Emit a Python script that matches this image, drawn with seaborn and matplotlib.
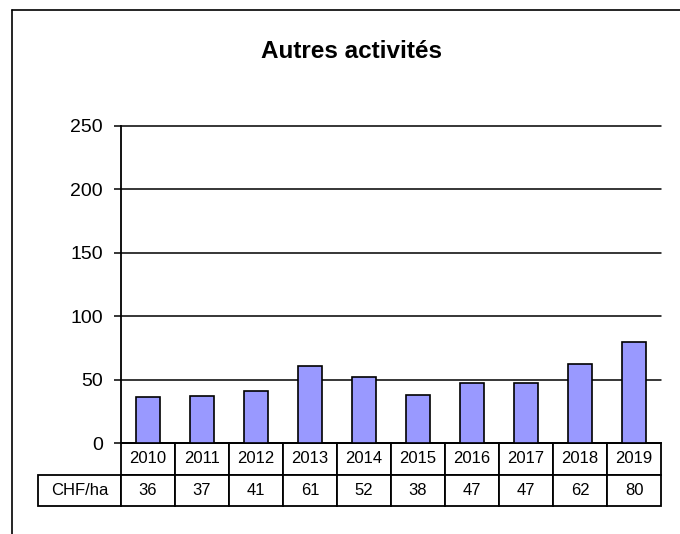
import matplotlib
matplotlib.use("Agg")
import matplotlib.pyplot as plt
from matplotlib.lines import Line2D
import pandas as pd
import seaborn as sns

years = ["2010", "2011", "2012", "2013", "2014", "2015", "2016", "2017", "2018", "2019"]
chf_ha = [36, 37, 41, 61, 52, 38, 47, 47, 62, 80]
y_ticks = [0, 50, 100, 150, 200, 250]
row_label = "CHF/ha"
title = "Autres activités"

sns.set_theme(style="white")
plt.rcParams["font.family"] = ["Liberation Sans", "DejaVu Sans"]
plt.rcParams["text.color"] = "black"
plt.rcParams["ytick.labelcolor"] = "black"

W, H = 680, 534
fig = plt.figure(figsize=(W / 100, H / 100), dpi=100)
ax = fig.add_axes([121 / W, (H - 443) / H, 540 / W, 317 / H])

df = pd.DataFrame({"year": years, "value": chf_ha})
sns.barplot(data=df, x="year", y="value", color="#9999ff", saturation=1,
            width=0.43, edgecolor="black", linewidth=1.2, ax=ax, zorder=3)

ax.set_ylim(0, 250)
ax.set_yticks(y_ticks)
ax.set_xlim(-0.5, len(years) - 0.5)
for t in y_ticks[1:]:
    ax.axhline(t, color="black", linewidth=1.1, zorder=1, clip_on=False)
ax.set_xticks([])
ax.set_xlabel("")
ax.set_ylabel("")
ax.tick_params(axis="y", direction="out", length=5, width=1.1, color="black",
               labelcolor="black", labelsize=14, pad=8, left=True)
for side in ["top", "right"]:
    ax.spines[side].set_visible(False)
for side in ["left", "bottom"]:
    ax.spines[side].set_color("black")
    ax.spines[side].set_linewidth(1.3)

fig.text(351 / W, 1 - 52 / H, title, fontsize=17.5, fontweight="bold",
         color="black", ha="center", va="center")

# data table under the axis
first_w = 83 / 540
cell_text = [[""] + years, [row_label] + [str(v) for v in chf_ha]]
tbl = ax.table(cellText=cell_text, colWidths=[first_w] + [0.1] * len(years),
               cellLoc="center",
               bbox=[-first_w, -63 / 317, 1 + first_w, 63 / 317])
tbl.auto_set_font_size(False)
for (r, c), cell in tbl.get_celld().items():
    cell.set_linewidth(1.3)
    cell.set_edgecolor("black")
    cell.get_text().set_fontsize(12)
    cell.get_text().set_color("black")
    if r == 0 and c == 0:
        cell.visible_edges = ""

# chart area border (clipped by the picture edges)
fig.add_artist(Line2D([12 / W, 1.0], [1 - 10 / H, 1 - 10 / H], color="black", linewidth=1.2))
fig.add_artist(Line2D([12 / W, 12 / W], [1 - 10 / H, 0.0], color="black", linewidth=1.2))

fig.savefig("out.png", dpi=100)
